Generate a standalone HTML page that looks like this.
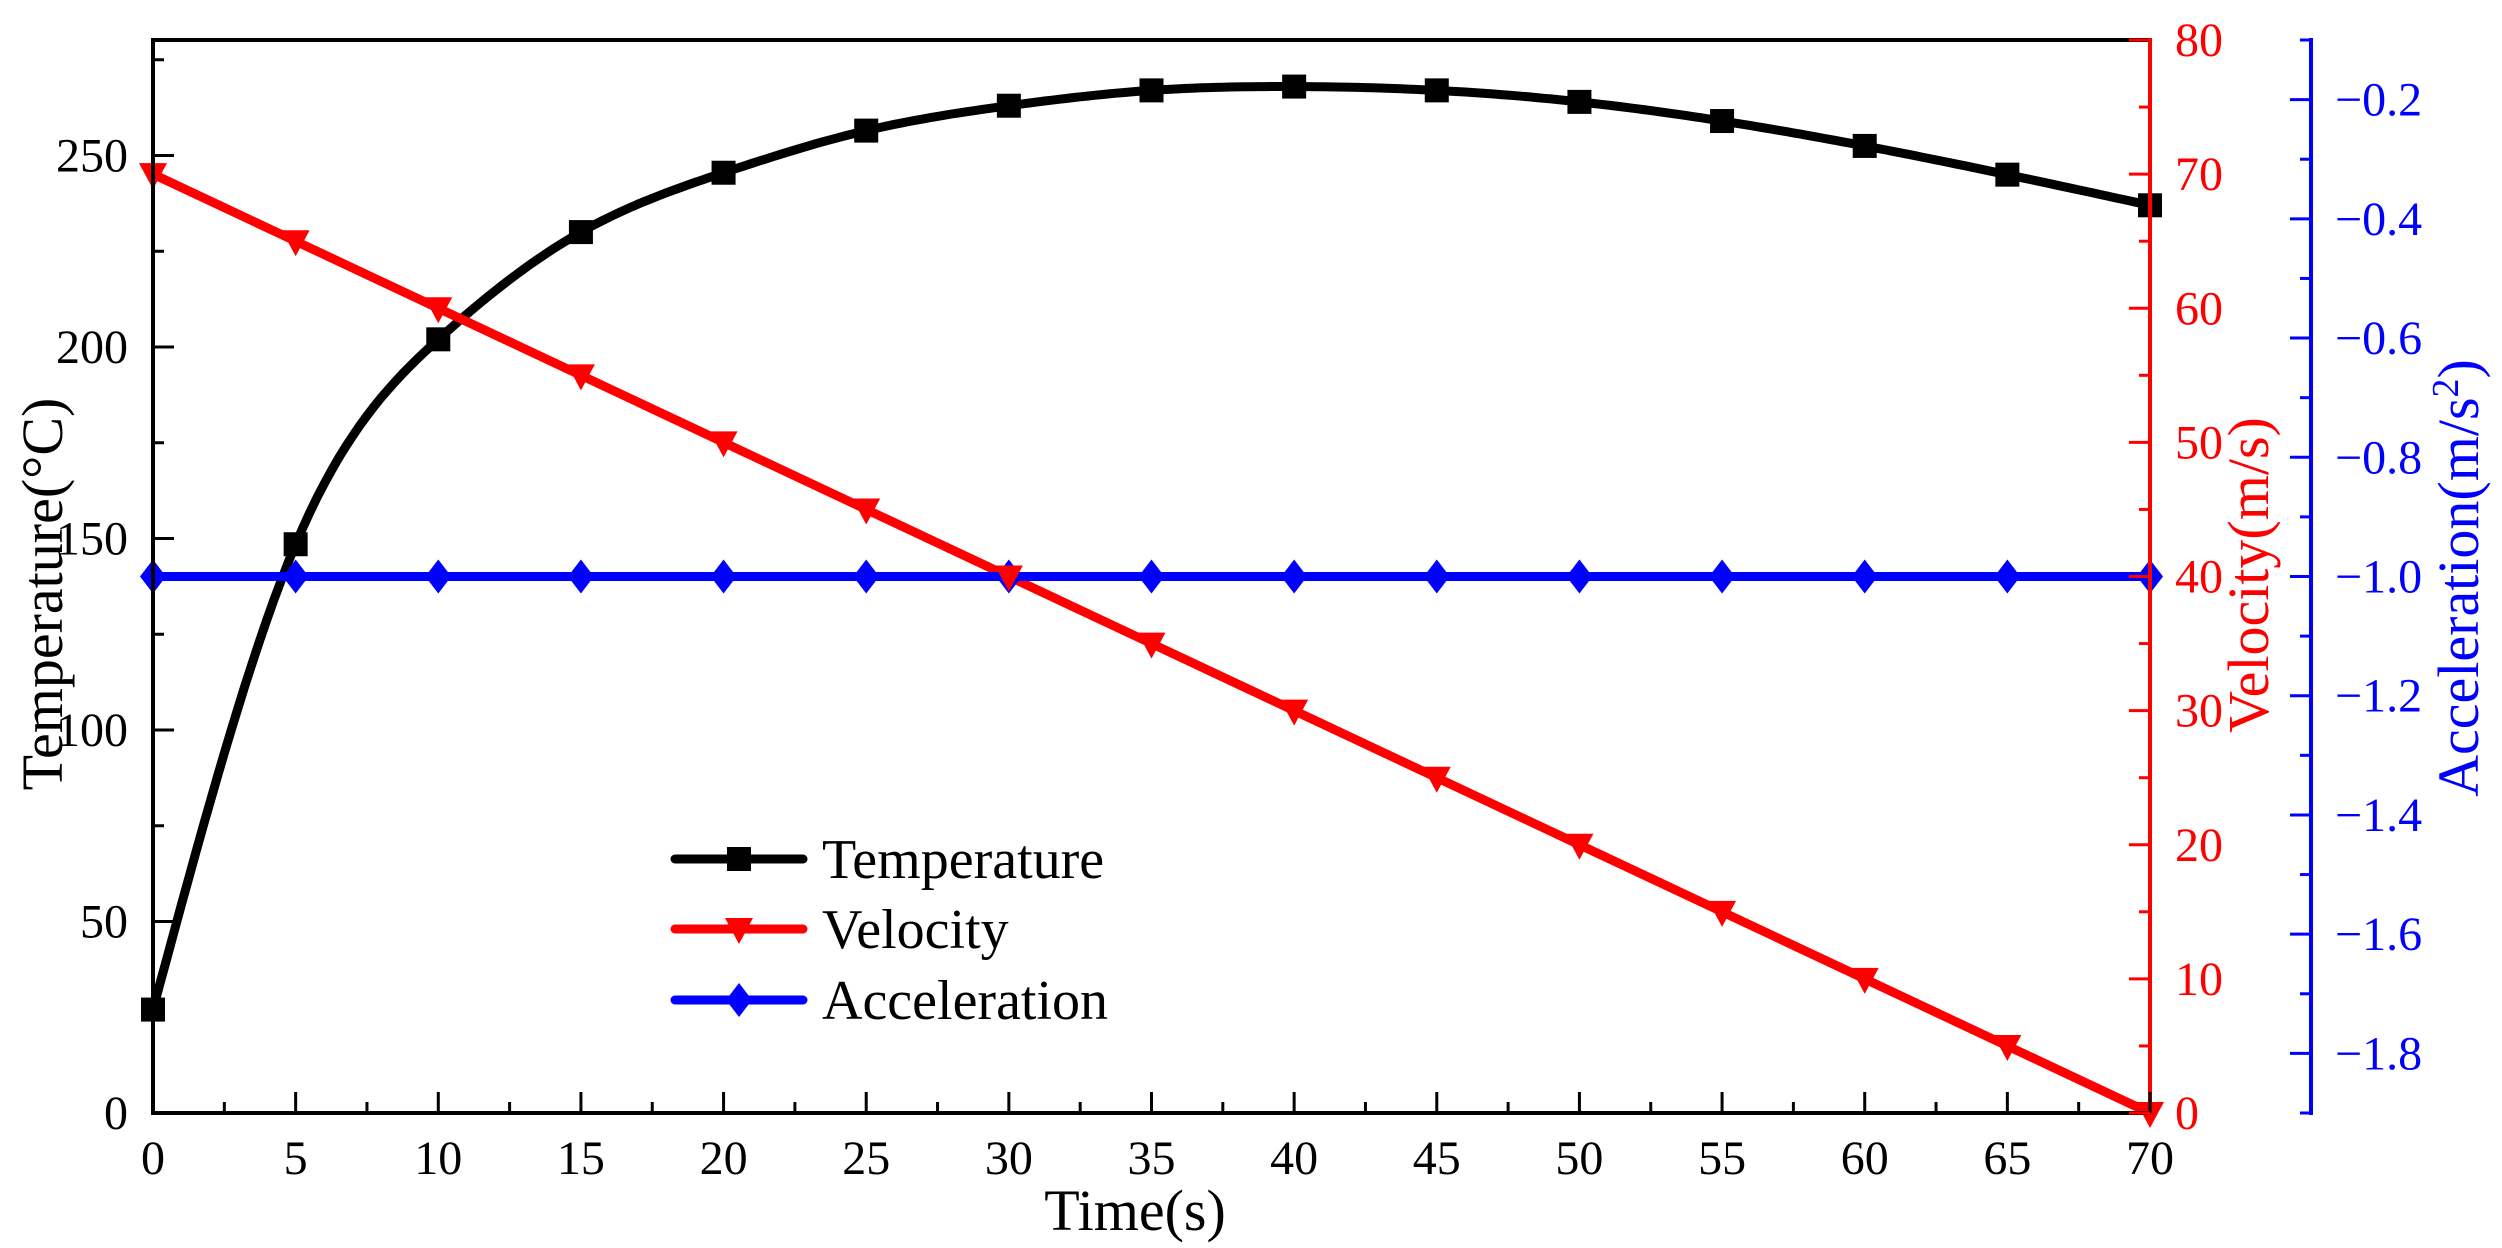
<!DOCTYPE html>
<html><head><meta charset="utf-8"><style>
html,body{margin:0;padding:0;background:#fff;}
svg{display:block;font-family:"Liberation Serif","Times New Roman",serif;}
</style></head><body>
<svg id="chart" width="2502" height="1248" viewBox="0 0 2502 1248" xmlns="http://www.w3.org/2000/svg">
<g id="series"></g>
<g id="axes"></g>
<g id="legend"></g>
</svg>
<script>
const times = [0,5,10,15,20,25,30,35,40,45,50,55,60,65,70];
const temperature = [27,148.5,202,230,245.5,256.5,263,267,268,267,264,259,252.5,245,237];
const velocity = [70,65,60,55,50,45,40,35,30,25,20,15,10,5,0];
const acceleration = [-1,-1,-1,-1,-1,-1,-1,-1,-1,-1,-1,-1,-1,-1,-1];
const xTicks = [0,5,10,15,20,25,30,35,40,45,50,55,60,65,70];
const tTicks = [0,50,100,150,200,250];
const vTicks = [0,10,20,30,40,50,60,70,80];
const aTicks = [-1.8,-1.6,-1.4,-1.2,-1.0,-0.8,-0.6,-0.4,-0.2];

const L=153, R=2150, T=40, B=1113, BX=2311;
const NS="http://www.w3.org/2000/svg";
const sx = v => L + (v-0)/(70-0)*(R-L);
const sT = v => B - v*3.83;
const sV = v => B - v/80*(B-T);
const sA = v => B - (v+1.9)/1.8*(B-T);

function el(tag, attrs, parent){const e=document.createElementNS(NS,tag);for(const k in attrs)e.setAttribute(k,attrs[k]);parent.appendChild(e);return e;}
const axes=document.getElementById('axes'), series=document.getElementById('series'), legend=document.getElementById('legend');

let e;
e=el('line',{x1:L,y1:T,x2:R,y2:T,stroke:'#000','stroke-width':4},axes);


e=el('line',{x1:L,y1:T-2,x2:L,y2:B+2,stroke:'#000','stroke-width':4},axes);


e=el('line',{x1:L,y1:B,x2:R,y2:B,stroke:'#000','stroke-width':4},axes);


e=el('line',{x1:R,y1:T-2,x2:R,y2:B+2,stroke:'#f00','stroke-width':4},axes);


e=el('line',{x1:BX,y1:T-2,x2:BX,y2:B+2,stroke:'#00f','stroke-width':4},axes);



for(let v=0; v<=70; v+=2.5){const maj=v%5===0;const x=sx(v);
 e=el('line',{x1:x,y1:B,x2:x,y2:B-(maj?21:11),stroke:'#000','stroke-width':3},axes);
 
 }
xTicks.forEach(v=>{e=el('text',{x:sx(v),y:1174,'text-anchor':'middle','font-size':48,fill:'#000'},axes);e.textContent=v;
 
 });
for(let v=0; v<=275; v+=25){const maj=v%50===0;const y=sT(v);
 e=el('line',{x1:L,y1:y,x2:L+(maj?21:11),y2:y,stroke:'#000','stroke-width':3},axes);
 
 }
tTicks.forEach(v=>{e=el('text',{x:128,y:sT(v)+16,'text-anchor':'end','font-size':48,fill:'#000'},axes);e.textContent=v;
 
 });
for(let v=0; v<=80; v+=5){const maj=v%10===0;const y=sV(v);
 e=el('line',{x1:R,y1:y,x2:R-(maj?21:11),y2:y,stroke:'#f00','stroke-width':3},axes);
 
 }
vTicks.forEach(v=>{e=el('text',{x:2175,y:sV(v)+16,'text-anchor':'start','font-size':48,fill:'#f00'},axes);e.textContent=v;
 
 });
for(let i=0;i<=18;i++){const v=-1.9+i*0.1;const maj=i%2===1;const y=sA(v);
 e=el('line',{x1:BX,y1:y,x2:BX-(maj?21:11),y2:y,stroke:'#00f','stroke-width':3},axes);
 
 }
aTicks.forEach(v=>{e=el('text',{x:2335,y:sA(v)+16,'text-anchor':'start','font-size':48,fill:'#00f'},axes);e.textContent='\u2212'+Math.abs(v).toFixed(1);
 
 });

e=el('text',{x:1135,y:1230,'text-anchor':'middle','font-size':58,fill:'#000'},axes);e.textContent='Time(s)';


e=el('text',{x:0,y:0,'text-anchor':'middle','font-size':58,fill:'#000',transform:'translate(62,594) rotate(-90)'},axes);e.textContent='Temperature(\u00B0C)';


e=el('text',{x:0,y:0,'text-anchor':'middle','font-size':58,fill:'#f00',transform:'translate(2268,575) rotate(-90)'},axes);e.textContent='Velocity(m/s)';


e=el('text',{x:0,y:0,'text-anchor':'middle','font-size':58,fill:'#00f',transform:'translate(2478,578) rotate(-90)'},axes);
e.innerHTML='Acceleration(m/s<tspan dy="-20" font-size="38">2</tspan><tspan dy="20">)</tspan>';



function spline(xs, ys){
 const n=xs.length, h=[], a=[], l=[1], mu=[0], z=[0], c=new Array(n).fill(0), b=[], d=[];
 for(let i=0;i<n-1;i++) h.push(xs[i+1]-xs[i]);
 for(let i=1;i<n-1;i++) a[i]=3/h[i]*(ys[i+1]-ys[i])-3/h[i-1]*(ys[i]-ys[i-1]);
 for(let i=1;i<n-1;i++){l[i]=2*(xs[i+1]-xs[i-1])-h[i-1]*mu[i-1];mu[i]=h[i]/l[i];z[i]=(a[i]-h[i-1]*z[i-1])/l[i];}
 for(let j=n-2;j>=0;j--){c[j]=z[j]-mu[j]*c[j+1];b[j]=(ys[j+1]-ys[j])/h[j]-h[j]*(c[j+1]+2*c[j])/3;d[j]=(c[j+1]-c[j])/(3*h[j]);}
 return t=>{let i=Math.min(n-2,Math.max(0,xs.findIndex((x,k)=>k<n-1&&t<=xs[k+1])));const dx=t-xs[i];return ys[i]+b[i]*dx+c[i]*dx*dx+d[i]*dx*dx*dx;};
}
const f=spline(times,temperature);
let d='';
for(let t=0;t<=70.001;t+=0.25){d+=(d?' L':'M')+sx(t).toFixed(1)+','+sT(f(t)).toFixed(1);}
e=el('path',{d:d,fill:'none',stroke:'#000','stroke-width':9,'stroke-linejoin':'round'},series);


const vp=times.map((t,i)=>sx(t)+','+sV(velocity[i])).join(' ');
e=el('polyline',{points:vp,fill:'none',stroke:'#f00','stroke-width':9},series);


const ap=times.map((t,i)=>sx(t)+','+sA(acceleration[i])).join(' ');
e=el('polyline',{points:ap,fill:'none',stroke:'#00f','stroke-width':9},series);



function sq(x,y,p){return el('rect',{x:x-12,y:y-12,width:24,height:24,fill:'#000'},p);}
function tri(x,y,p){return el('polygon',{points:`${x-14},${y-11} ${x+14},${y-11} ${x},${y+15}`,fill:'#f00'},p);}
function dia(x,y,p){return el('polygon',{points:`${x},${y-17} ${x+13},${y} ${x},${y+17} ${x-13},${y}`,fill:'#00f'},p);}
times.forEach((t,i)=>{
 e=dia(sx(t),sA(acceleration[i]),series);
 
 
 e=tri(sx(t),sV(velocity[i]),series);
 
 
 e=sq(sx(t),sT(temperature[i]),series);
 
 
});

const items=[['Temperature','#000',sq,859],['Velocity','#f00',tri,929],['Acceleration','#00f',dia,1000]];
items.forEach(it=>{
 const g=el('g',{},legend);
 
 
 el('line',{x1:675,y1:it[3],x2:803,y2:it[3],stroke:it[1],'stroke-width':9,'stroke-linecap':'round'},g);
 it[2](739,it[3],g);
 const t=el('text',{x:822,y:it[3]+19,'font-size':56,fill:'#000'},g);t.textContent=it[0];
});
</script>
</body></html>
